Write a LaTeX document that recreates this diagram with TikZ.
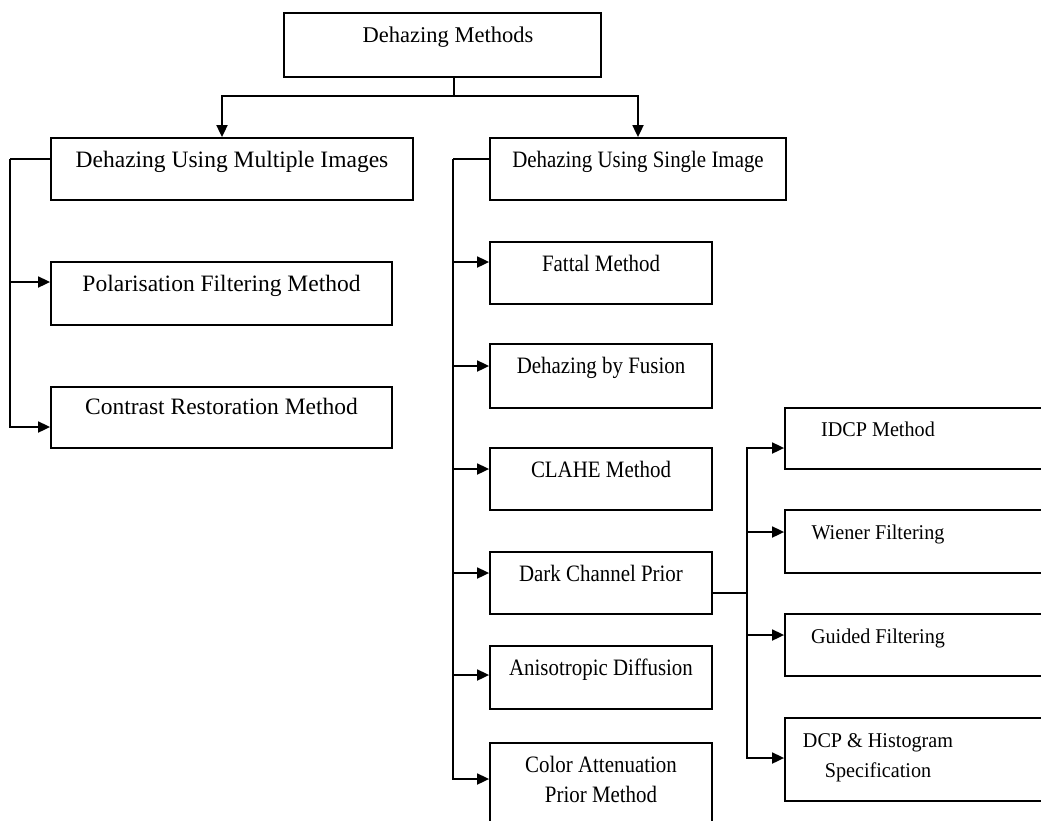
\documentclass[tikz,border=0pt]{standalone}
\usepackage{fontspec}
\setmainfont{Liberation Serif}
\newfontfamily\narrowserif[FakeStretch=0.89]{Liberation Serif}
\newfontfamily\halfnarrowserif[FakeStretch=0.96]{Liberation Serif}
\usetikzlibrary{arrows.meta}

\tikzstyle{head} = [rectangle, draw, line width=1.8pt, inner sep=0pt, minimum height=64pt]
\tikzstyle{branch} = [rectangle, draw, line width=1.8pt, inner sep=0pt, minimum height=62pt]
\tikzstyle{leaf1} = [rectangle, draw, line width=1.8pt, inner sep=0pt, minimum width=341pt, minimum height=62pt]
\tikzstyle{leaf2} = [rectangle, draw, line width=1.8pt, inner sep=0pt, minimum width=222pt, minimum height=62pt]
\tikzstyle{leaf3} = [rectangle, draw, line width=1.8pt, inner sep=0pt, minimum width=290pt, minimum height=62pt]
\tikzstyle{txt} = [anchor=base, align=center, inner sep=0pt, yshift=-30.5pt, font=\narrowserif\fontsize{23.5}{30}\selectfont]
\tikzstyle{txtbig} = [txt, font=\fontsize{23.5}{30}\selectfont]
\tikzstyle{txtsmall} = [txt, xshift=-52pt, font=\halfnarrowserif\fontsize{21}{30}\selectfont]
\tikzstyle{link} = [line width=1.8pt]
\tikzstyle{flow} = [line width=1.8pt, -{Triangle[length=12pt,width=11pt]}]

\begin{document}
\begin{tikzpicture}[x=1pt, y=-1pt]
    \clip (0,0) rectangle (1041,820);

    %  nodes
    \node[head, minimum width=317pt, label={[txtbig, xshift=5.5pt, font=\fontsize{22.5}{30}\selectfont]north:Dehazing Methods}] (DM) at (442.5,45) {};
    \node[branch, minimum width=362pt, label={[txtbig]north:Dehazing Using Multiple Images}] (MI) at (232,169) {};
    \node[branch, minimum width=296pt, label={[txt]north:Dehazing Using Single  Image}] (SI) at (638,169) {};

    %-------------------------------------------------------------
    \node[leaf1, minimum height=63pt, label={[txtbig]north:Polarisation Filtering Method}] (PF) at (221.5,293.5) {};
    \node[leaf1, minimum height=61pt, label={[txtbig, yshift=2pt]north:Contrast Restoration Method}] (CR) at (221.5,417.5) {};

    %-------------------------------------------------------------
    \node[leaf2, label={[txt]north:Fattal Method}] (FM) at (601,273) {};
    \node[leaf2, minimum height=64pt, label={[txt]north:Dehazing by Fusion}] (DF) at (601,376) {};
    \node[leaf2, label={[txt]north:CLAHE Method}] (CL) at (601,479) {};
    \node[leaf2, label={[txt]north:Dark Channel Prior}] (DC) at (601,583) {};
    \node[leaf2, minimum height=63pt, label={[txt]north:Anisotropic Diffusion}] (AD) at (601,677.5) {};
    \node[leaf2, minimum height=92pt, label={[txt, yshift=-30pt]north:Color Attenuation\\Prior Method}] (CA) at (601,789) {};

    %-------------------------------------------------------------
    \node[leaf3, minimum height=61pt, label={[txtsmall, yshift=1.5pt]north:IDCP Method}] (ID) at (930,438.5) {};
    \node[leaf3, minimum height=63pt, label={[txtsmall]north:Wiener Filtering}] (WF) at (930,541.5) {};
    \node[leaf3, label={[txtsmall]north:Guided Filtering}] (GF) at (930,645) {};
    \node[leaf3, minimum height=83pt, label={[txtsmall, yshift=-30pt]north:DCP \& Histogram\\Specification}] (DH) at (930,759.5) {};

    % connectors
    \coordinate (fork) at (454,96);
    \draw[link] (DM.south -| fork) -- (fork);
    \draw[flow] (fork) -| ([xshift=-10pt]MI.north);
    \draw[flow] (fork) -| (SI.north);

    \coordinate (trunkM) at (10,159);
    \draw[link] ([yshift=10pt]MI.west) -- (trunkM);
    \draw[flow] (trunkM) |- ([yshift=11.5pt]PF.west);
    \draw[flow] (trunkM) |- ([yshift=-9.5pt]CR.west);

    \coordinate (trunkS) at (453,159);
    \draw[link] ([yshift=10pt]SI.west) -- (trunkS);
    \draw[flow] (trunkS) |- ([yshift=11pt]FM.west);
    \draw[flow] (trunkS) |- ([yshift=10pt]DF.west);
    \draw[flow] (trunkS) |- ([yshift=10pt]CL.west);
    \draw[flow] (trunkS) |- ([yshift=10pt]DC.west);
    \draw[flow] (trunkS) |- ([yshift=2.5pt]AD.west);
    \draw[flow] (trunkS) |- ([yshift=10pt]CA.west);

    \coordinate (trunkD) at (747,593);
    \draw[link] ([yshift=-10pt]DC.east) -- (trunkD);
    \draw[flow] (trunkD) |- ([yshift=-9.5pt]ID.west);
    \draw[flow] (trunkD) |- ([yshift=9.5pt]WF.west);
    \draw[flow] (trunkD) |- ([yshift=10pt]GF.west);
    \draw[flow] (trunkD) |- ([yshift=1.5pt]DH.west);

\end{tikzpicture}
\end{document}
